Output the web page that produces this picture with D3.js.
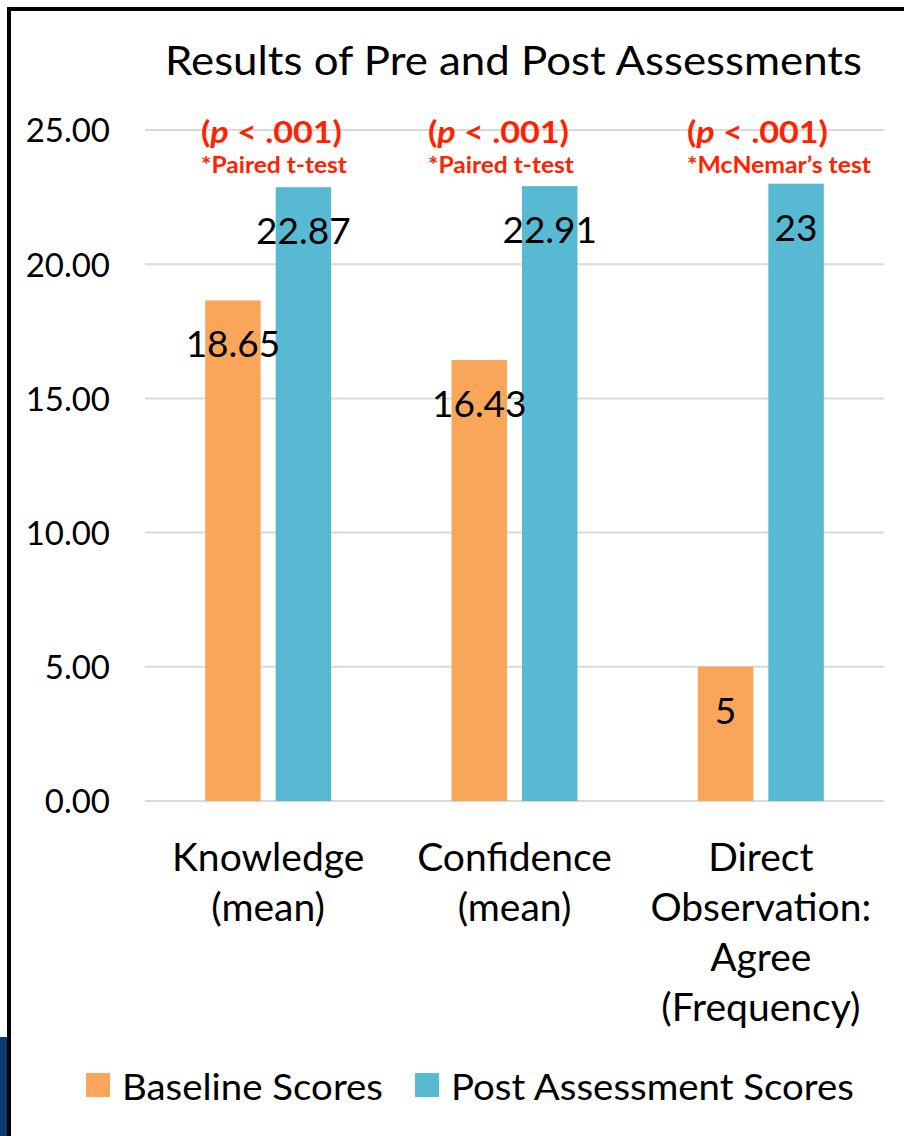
<!DOCTYPE html>
<html>
<head>
<meta charset="utf-8">
<script src="https://cdn.jsdelivr.net/npm/d3@7"></script>
<style>
  html, body { margin: 0; padding: 0; background: #fff; }
  svg { display: block; }
  text { font-family: Lato, "Open Sans", sans-serif; }
</style>
</head>
<body>
<svg id="chart" width="904" height="1136"></svg>
<script>
// ---- data ----
const categories = [
  ["Knowledge", "(mean)"],
  ["Confidence", "(mean)"],
  ["Direct", "Observation:", "Agree", "(Frequency)"]
];
const seriesNames = ["Baseline Scores", "Post Assessment Scores"];
const baselineValues = [18.65, 16.43, 5];
const postValues = [22.87, 22.91, 23];
const valueLabels = [["18.65", "22.87"], ["16.43", "22.91"], ["5", "23"]];
const pValueLabels = ["(p < .001)", "(p < .001)", "(p < .001)"];
const testLabels = ["*Paired t-test", "*Paired t-test", "*McNemar\u2019s test"];
const yTicks = [0, 5, 10, 15, 20, 25];
const title = "Results of Pre and Post Assessments";
const colors = ["#F9A65A", "#58BAD2"];

// ---- layout ----
const svg = d3.select("#chart");
const W = 904, H = 1136;
const plot = { left: 145, right: 884, top: 130, bottom: 801 };

function fit(sel, w) {
  sel.attr("textLength", w).attr("lengthAdjust", "spacingAndGlyphs");
  return sel;
}

svg.append("rect").attr("width", W).attr("height", H).attr("fill", "#fff");

// border pieces
svg.append("rect").attr("x", 0).attr("y", 1037).attr("width", 7).attr("height", H - 1037).attr("fill", "#0B3A73");
svg.append("rect").attr("x", 7).attr("y", 7).attr("width", 4).attr("height", H - 7).attr("fill", "#000");
svg.append("rect").attr("x", 7).attr("y", 7).attr("width", W - 7).attr("height", 4).attr("fill", "#000");

const y = d3.scaleLinear().domain([0, 25]).range([plot.bottom, plot.top]);
const pIn = 1 - 126 / ((plot.right - plot.left) / 3);
const x0 = d3.scaleBand().domain(d3.range(categories.length))
  .range([plot.left, plot.right]).paddingInner(pIn).paddingOuter(pIn / 2);
const x1 = d3.scaleBand().domain(d3.range(seriesNames.length))
  .range([0, x0.bandwidth()]).paddingInner(0.213).paddingOuter(0);

// title
fit(svg.append("text").attr("x", 165).attr("y", 75)
  .attr("font-size", 41).attr("fill", "#000").text(title), 697);

// gridlines
svg.append("g").selectAll("line").data(yTicks).join("line")
  .attr("x1", plot.left).attr("x2", plot.right)
  .attr("y1", d => y(d)).attr("y2", d => y(d))
  .attr("stroke", "#D9D9D9").attr("stroke-width", 2);

// y axis labels via d3 axis
const yAxis = d3.axisLeft(y).tickValues(yTicks).tickFormat(d3.format(".2f")).tickSize(0).tickPadding(0);
const gy = svg.append("g").attr("transform", "translate(110,0)").call(yAxis);
gy.select(".domain").remove();
gy.selectAll("text").attr("font-size", 33).attr("font-family", "Lato, sans-serif")
  .attr("fill", "#000").attr("dy", "0.36em");

// bars
const data = categories.map((c, i) => [baselineValues[i], postValues[i]]);
const groups = svg.append("g").selectAll("g").data(data).join("g")
  .attr("transform", (d, i) => `translate(${x0(i)},0)`);
groups.selectAll("rect").data(d => d).join("rect")
  .attr("x", (d, j) => x1(j)).attr("width", x1.bandwidth())
  .attr("y", d => y(d)).attr("height", d => y(0) - y(d))
  .attr("fill", (d, j) => colors[j]);
groups.selectAll("text.val").data((d, i) => d.map((v, j) => ({ v, j, label: valueLabels[i][j] })))
  .join("text").attr("class", "val")
  .attr("x", d => x1(d.j) + x1.bandwidth() / 2)
  .attr("y", d => y(d.v) + 57)
  .attr("text-anchor", "middle").attr("font-size", 37).attr("fill", "#000")
  .text(d => d.label);

// annotations
const annX = [201, 428, 687];
const pW = [141, 141, 141];
const testW = [146, 146, 184];
categories.forEach((c, i) => {
  const t = svg.append("text").attr("x", annX[i]).attr("y", 143)
    .attr("font-size", 31).attr("font-weight", 700).attr("fill", "#FF2200");
  const s = pValueLabels[i];
  t.append("tspan").text("(");
  t.append("tspan").attr("font-style", "italic").text("p");
  t.append("tspan").text(s.slice(2));
  fit(t, pW[i]);
  fit(svg.append("text").attr("x", annX[i]).attr("y", 173)
    .attr("font-size", 23).attr("font-weight", 700).attr("fill", "#FF2200")
    .text(testLabels[i]), testW[i]);
});

// category labels
categories.forEach((lines, i) => {
  const cx = x0(i) + x0.bandwidth() / 2;
  const t = svg.append("text").attr("text-anchor", "middle").attr("font-size", 39).attr("fill", "#000");
  lines.forEach((ln, k) => {
    t.append("tspan").attr("x", cx).attr("y", 871 + k * 50).text(ln);
  });
});

// legend
const legX = [86, 415];
const legW = [261, 403];
seriesNames.forEach((name, j) => {
  svg.append("rect").attr("x", legX[j]).attr("y", 1073).attr("width", 24).attr("height", 24).attr("fill", colors[j]);
  fit(svg.append("text").attr("x", legX[j] + 36).attr("y", 1100).attr("font-size", 37).attr("fill", "#000").text(name), legW[j]);
});
</script>
</body>
</html>
